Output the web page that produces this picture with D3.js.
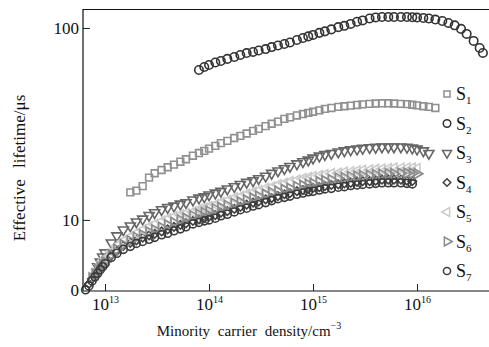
<!DOCTYPE html>
<html lang="en">
<head>
  <meta charset="utf-8">
  <title>Effective lifetime</title>
  <script src="https://d3js.org/d3.v7.min.js"></script>
  <style>
    body { margin: 0; background: #fff; }
    text { font-family: "Liberation Serif", "DejaVu Serif", serif; fill: #111; }
  </style>
</head>
<body>
<svg id="chart" width="489" height="347"></svg>
<script>
  // minority carrier density (cm^-3), shared by all samples
  const density = [
    6.5e12, 7e12, 7.5e12, 8e12, 8.5e12, 9e12, 9.5e12,
    1e13, 1.15e13, 1.3e13, 1.5e13, 1.75e13, 2e13, 2.3e13, 2.65e13, 3e13, 3.5e13, 4e13, 4.6e13, 5.3e13, 6e13, 7e13, 8e13, 9e13,
    1e14, 1.15e14, 1.3e14, 1.5e14, 1.75e14, 2e14, 2.3e14, 2.65e14, 3e14, 3.5e14, 4e14, 4.6e14, 5.3e14, 6e14, 7e14, 8e14, 9e14,
    1e15, 1.15e15, 1.3e15, 1.5e15, 1.75e15, 2e15, 2.3e15, 2.65e15, 3e15, 3.5e15, 4e15, 4.6e15, 5.3e15, 6e15, 7e15, 8e15, 9e15,
    1e16, 1.15e16, 1.3e16, 1.5e16, 1.75e16, 2e16, 2.3e16, 2.65e16, 3e16, 3.5e16, 4e16, 4.3e16
  ];

  // effective lifetime (us) per sample; each starts at density[firstIdx[i]]
  const s1 = [13.9, 14.2, 15.0, 16.6, 17.5, 18.2, 18.8, 19.4, 20.1, 20.7, 21.6, 22.3, 22.9,
    23.5, 24.3, 25.1, 25.8, 26.7, 27.4, 28.2, 29.1, 29.8, 30.8, 31.7, 32.5, 33.6, 34.2, 35.0, 35.6, 36.1,
    36.6, 37.2, 37.9, 38.3, 38.8, 39.1, 39.4, 39.7, 40.0, 40.2, 40.4, 40.5, 40.5, 40.4, 40.2, 40.1, 39.8,
    39.5, 39.1, 38.8, 38.3];
  const s2 = [60.4, 62.6,
    64.1, 66.1, 67.3, 69.0, 70.6, 72.3, 74.0, 75.0, 76.3, 77.6, 79.5, 81.0, 82.5, 84.0, 86.6, 88.7, 90.4,
    92.0, 94.3, 96.0, 98.3, 101, 102.6, 105, 107.8, 109.5, 112, 113.5, 114, 114, 114, 114, 114, 113.7,
    113.3, 112.7, 112, 110.6, 108.7, 106.2, 103.2, 98.9, 93.1, 85.6, 78.6, 74.1];
  const s3 = [5.70, 6.04, 6.41, 6.74, 7.59, 8.26, 8.87, 9.31, 9.76, 10.1, 10.55, 10.9, 11.3, 11.6, 11.8, 12.1, 12.3, 12.7, 13.0, 13.2,
    13.5, 13.8, 14.1, 14.5, 14.9, 15.3, 15.7, 16.0, 16.4, 16.9, 17.5, 18.0, 18.5, 19.0, 19.6, 20.1, 20.5,
    21.0, 21.5, 21.9, 22.2, 22.6, 22.9, 23.2, 23.4, 23.6, 23.8, 23.9, 24.0, 24.0, 24.0, 24.0, 23.9, 23.7,
    23.4, 22.9, 22.2];
  const s4 = [4.64, 4.93, 5.17, 5.43, 5.66, 5.91, 6.12, 6.54, 6.90, 7.33, 7.59, 7.82, 8.08, 8.31, 8.46, 8.71, 8.92, 9.20, 9.42, 9.59, 9.88, 10.06, 10.2,
    10.4, 10.6, 10.9, 11.1, 11.4, 11.7, 12.0, 12.3, 12.5, 12.8, 13.0, 13.3, 13.6, 13.8, 14.1, 14.3, 14.5,
    14.7, 14.8, 15.0, 15.2, 15.3, 15.5, 15.6, 15.8, 15.9, 15.9, 16.0, 16.2, 16.2, 16.2, 16.2, 16.0, 15.9];
  const s5 = [5.17, 5.50, 5.84, 6.08, 6.27, 6.82, 7.33, 7.77, 8.16, 8.50, 8.87, 9.20, 9.48, 9.82, 10.1, 10.4, 10.6, 10.8, 11.0, 11.3, 11.5,
    11.7, 12.0, 12.3, 12.6, 13.0, 13.2, 13.6, 13.9, 14.2, 14.6, 14.8, 15.2, 15.5, 15.8, 16.1, 16.4, 16.6,
    16.8, 17.0, 17.2, 17.4, 17.5, 17.7, 17.8, 18.0, 18.1, 18.2, 18.3, 18.4, 18.5, 18.6, 18.6, 18.6, 18.6,
    18.5];
  const s6 = [4.99, 5.23, 5.50, 5.66, 5.84, 6.04, 6.58, 7.02, 7.42, 7.77, 8.11, 8.36, 8.66, 8.87, 9.14, 9.42, 9.70, 10.0, 10.2, 10.5, 10.7, 10.9,
    11.1, 11.4, 11.6, 11.9, 12.2, 12.4, 12.7, 13.0, 13.3, 13.6, 13.9, 14.1, 14.4, 14.6, 14.9, 15.1, 15.3,
    15.5, 15.8, 16.0, 16.2, 16.5, 16.6, 16.8, 16.9, 17.0, 17.1, 17.2, 17.3, 17.4, 17.4, 17.5, 17.5, 17.5,
    17.4];
  const s7 = [4.32, 4.53, 4.81, 5.05, 5.27, 5.50, 5.70, 5.91, 6.38, 6.70, 7.02, 7.28, 7.54, 7.72, 7.92, 8.11, 8.36, 8.51, 8.77, 8.98, 9.20, 9.53, 9.70, 9.88,
    10.0, 10.2, 10.5, 10.7, 11.0, 11.3, 11.5, 11.8, 12.0, 12.3, 12.6, 12.9, 13.1, 13.3, 13.6, 13.8, 14.0,
    14.1, 14.3, 14.5, 14.6, 14.8, 14.9, 15.1, 15.2, 15.3, 15.4, 15.5, 15.6, 15.6, 15.6, 15.6, 15.5, 15.4];

  const sampleNames = ["1", "2", "3", "4", "5", "6", "7"];
  const sampleValues = [s1, s2, s3, s4, s5, s6, s7];
  const firstIdx = [11, 22, 4, 1, 3, 2, 0];

  const xTicks = [1e13, 1e14, 1e15, 1e16];
  const xTickExp = ["13", "14", "15", "16"];
  const yTicks = [10, 100];

  // marker look per sample: symbol, rotation, colour
  const markers = [
    { type: d3.symbolSquare,   rot: 0,   size: 46, color: "#909090" },
    { type: d3.symbolCircle,   rot: 0,   size: 56, color: "#333" },
    { type: d3.symbolTriangle, rot: 180, size: 44, color: "#666" },
    { type: d3.symbolSquare,   rot: 45,  size: 36, color: "#404040" },
    { type: d3.symbolTriangle, rot: -90, size: 44, color: "#cbcbcb" },
    { type: d3.symbolTriangle, rot: 90,  size: 44, color: "#8a8a8a" },
    { type: d3.symbolCircle,   rot: 0,   size: 50, color: "#3a3a3a" }
  ];

  const svg = d3.select("#chart");
  const plotL = 83, plotR = 489, plotT = 9.5, plotB = 291;

  const x = d3.scaleLog().domain([6.14e12, 4.92e16]).range([plotL, plotR]);
  const y = d3.scaleLog().domain([4.26, 124.8]).range([plotB, plotT]);

  // points
  sampleValues.forEach((vals, i) => {
    const m = markers[i];
    const sym = d3.symbol().type(m.type).size(m.size);
    const pts = vals.map((v, j) => ({ n: density[firstIdx[i] + j], t: v }));
    svg.append("g")
      .selectAll("path")
      .data(pts)
      .join("path")
        .attr("d", sym)
        .attr("transform", d => `translate(${x(d.n)},${y(d.t)}) rotate(${m.rot})`)
        .attr("fill", "none")
        .attr("stroke", m.color)
        .attr("stroke-width", 1.6);
  });

  // x axis, ticks pointing inward
  const gx = svg.append("g")
    .attr("transform", `translate(0,${plotB})`)
    .call(d3.axisBottom(x).tickValues(xTicks).tickSizeInner(-7).tickSizeOuter(0).tickFormat(""));
  gx.select(".domain").remove();
  gx.selectAll(".tick line").attr("stroke", "#222");
  gx.selectAll(".tick").append("text")
    .attr("y", 19)
    .attr("text-anchor", "middle")
    .style("font-size", "17px")
    .each(function(d, i) {
      const t = d3.select(this);
      t.append("tspan").text("10");
      t.append("tspan").attr("dy", -7).style("font-size", "10px").text(xTickExp[i]);
    });

  // y axis
  const gy = svg.append("g")
    .attr("transform", `translate(${plotL},0)`)
    .call(d3.axisLeft(y).tickValues(yTicks).tickSizeInner(-7).tickSizeOuter(0).tickFormat(d3.format("d")));
  gy.select(".domain").remove();
  gy.selectAll(".tick line").attr("stroke", "#222");
  gy.selectAll(".tick text").attr("x", -4).style("font-size", "17px").attr("fill", "#111");
  svg.append("text")
    .attr("x", plotL - 4).attr("y", plotB).attr("dy", "0.32em")
    .attr("text-anchor", "end").style("font-size", "17px").text("0");

  // frame: left, top, bottom
  svg.append("path")
    .attr("d", `M${plotR},${plotT}H${plotL}V${plotB}H${plotR}`)
    .attr("fill", "none").attr("stroke", "#111").attr("stroke-width", 1.2);

  // axis titles
  svg.append("text")
    .attr("x", 249).attr("y", 336)
    .attr("text-anchor", "middle")
    .style("font-size", "15px").style("word-spacing", "4px")
    .call(t => {
      t.append("tspan").text("Minority carrier density/cm");
      t.append("tspan").attr("dy", -7).style("font-size", "10px").text("−3");
    });
  svg.append("text")
    .attr("transform", "translate(25,168) rotate(-90)")
    .attr("text-anchor", "middle")
    .style("font-size", "17px").style("word-spacing", "7px")
    .text("Effective lifetime/μs");

  // legend
  const leg = svg.append("g");
  sampleNames.forEach((name, i) => {
    const m = markers[i];
    const ly = 94 + i * 29.5;
    leg.append("path")
      .attr("d", d3.symbol().type(m.type).size(m.size * 0.8)())
      .attr("transform", `translate(447,${ly}) rotate(${m.rot})`)
      .attr("fill", "none").attr("stroke", m.color).attr("stroke-width", 1.5);
    const t = leg.append("text").attr("x", 456).attr("y", ly + 6).style("font-size", "18px");
    t.append("tspan").text("S");
    t.append("tspan").attr("dy", 4).style("font-size", "11px").text(name);
  });
</script>
</body>
</html>
